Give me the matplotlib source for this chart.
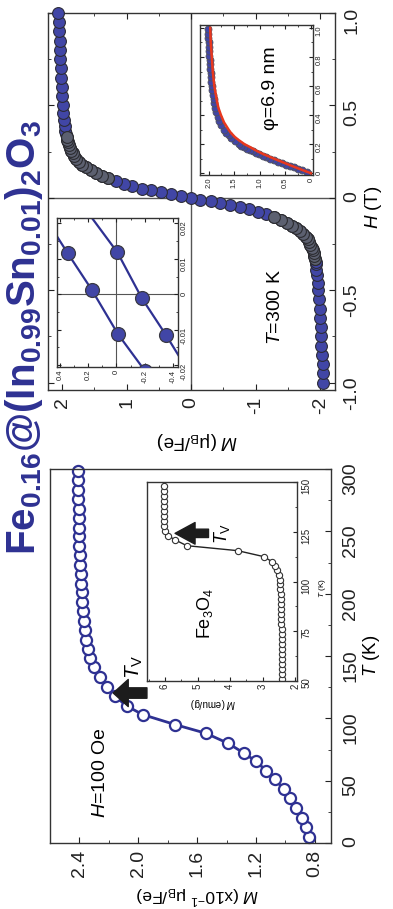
import matplotlib
matplotlib.use("Agg")
import matplotlib.pyplot as plt
from matplotlib.ticker import MultipleLocator
from matplotlib.patches import FancyArrowPatch

plt.rcParams.update({
    "font.family": ["Liberation Sans", "DejaVu Sans"],
    "mathtext.fontset": "custom",
    "mathtext.rm": "Liberation Sans",
    "mathtext.it": "Liberation Sans:italic",
    "mathtext.bf": "Liberation Sans:bold",
    "xtick.direction": "in", "ytick.direction": "in",
    "axes.linewidth": 1.0,
})

NAVY = "#2e3192"
BLUE = "#4146a6"

# M(T) of the nanocomposite, H = 100 Oe  (M in 1e-1 muB/Fe)
T_nc = [5, 12.5, 20, 28, 36, 43, 51, 58, 65.5, 72, 80, 88, 95, 103, 110, 118, 125, 133, 141,
        148, 156, 163, 171, 178, 186, 193, 201, 208, 216, 223, 231, 238, 246, 253, 261, 268,
        276, 283, 291, 298]
M_nc = [0.84, 0.86, 0.89, 0.93, 0.97, 1.01, 1.07, 1.13, 1.20, 1.28, 1.39, 1.54, 1.75, 1.97,
        2.08, 2.16, 2.21, 2.26, 2.30, 2.33, 2.345, 2.355, 2.36, 2.37, 2.375, 2.38, 2.385, 2.39,
        2.39, 2.395, 2.395, 2.40, 2.40, 2.40, 2.405, 2.405, 2.41, 2.41, 2.41, 2.41]

# bulk Fe3O4 reference (M in emu/g)
T_fe = [51, 53.5, 56, 58.5, 61, 63.5, 66, 68.5, 71, 73.5, 76, 78.5, 81, 83.5, 86, 88.5, 91,
        93.5, 96, 98.5, 101, 103.5, 106, 108, 110, 112.5, 115.5, 118, 121, 123, 125.5, 128,
        130.5, 133, 135.5, 138, 140.5, 143, 145.5, 148]
M_fe = [2.40, 2.40, 2.40, 2.41, 2.41, 2.41, 2.41, 2.42, 2.42, 2.42, 2.42, 2.43, 2.43, 2.43,
        2.44, 2.44, 2.45, 2.45, 2.46, 2.47, 2.48, 2.50, 2.55, 2.62, 2.72, 2.97, 3.77, 5.33,
        5.70, 5.90, 6.00, 6.02, 6.03, 6.03, 6.03, 6.03, 6.04, 6.04, 6.04, 6.04]

# M(H) loop at 300 K (muB/Fe)
H_loop = [-1.00, -0.95, -0.90, -0.85, -0.80, -0.75, -0.70, -0.65, -0.60, -0.55, -0.50, -0.46,
          -0.42, -0.39, -0.36, -0.345, -0.33, -0.315, -0.30, -0.285, -0.27, -0.255, -0.24,
          -0.225, -0.21, -0.195, -0.18, -0.165, -0.15, -0.135, -0.12, -0.105, -0.09, -0.075,
          -0.062, -0.05, -0.04, -0.03, -0.02, -0.01, 0.0, 0.01, 0.02, 0.03, 0.04, 0.05, 0.062,
          0.075, 0.09, 0.105, 0.12, 0.135, 0.15, 0.165, 0.18, 0.195, 0.21, 0.225, 0.24, 0.255,
          0.27, 0.285, 0.30, 0.315, 0.33, 0.345, 0.36, 0.39, 0.42, 0.46, 0.50, 0.55, 0.60,
          0.65, 0.70, 0.75, 0.80, 0.85, 0.90, 0.95, 1.00]
M_loop = [-2.05, -2.04, -2.04, -2.03, -2.02, -2.02, -2.01, -2.00, -1.99, -1.98, -1.97, -1.96,
          -1.95, -1.94, -1.94, -1.93, -1.92, -1.91, -1.90, -1.89, -1.87, -1.85, -1.83, -1.81,
          -1.78, -1.74, -1.69, -1.63, -1.56, -1.48, -1.39, -1.28, -1.16, -1.03, -0.90, -0.75,
          -0.60, -0.45, -0.30, -0.14, 0.01, 0.16, 0.32, 0.47, 0.62, 0.76, 0.91, 1.04, 1.17,
          1.29, 1.39, 1.48, 1.56, 1.63, 1.69, 1.74, 1.78, 1.81, 1.84, 1.86, 1.88, 1.89, 1.91,
          1.92, 1.93, 1.94, 1.95, 1.96, 1.97, 1.98, 1.99, 2.00, 2.01, 2.02, 2.02, 2.03, 2.04,
          2.04, 2.05, 2.05, 2.06]

# low-field zoom of the loop: two branches
H_br1 = [0.0232, 0.01155, 0.0013, -0.0113, -0.0215, -0.033]
M_br1 = [0.53, 0.344, 0.175, -0.012, -0.20, -0.37]
H_br2 = [0.0235, 0.0118, -0.00115, -0.01155, -0.0225]
M_br2 = [0.21, -0.007, -0.18, -0.351, -0.52]

# first quadrant with Langevin fit (phi = 6.9 nm)
H_q1 = [0.01, 0.02, 0.03, 0.04, 0.05, 0.06, 0.07, 0.08, 0.09, 0.10, 0.11, 0.12, 0.13, 0.14,
        0.15, 0.16, 0.17, 0.18, 0.19, 0.20, 0.22, 0.24, 0.26, 0.28, 0.30, 0.33, 0.36, 0.39,
        0.42, 0.45, 0.48, 0.51, 0.54, 0.57, 0.60, 0.63, 0.66, 0.69, 0.72, 0.75, 0.78, 0.81,
        0.84, 0.87, 0.90, 0.93, 0.96, 0.99]
M_q1 = [0.08, 0.17, 0.25, 0.33, 0.41, 0.49, 0.57, 0.65, 0.72, 0.80, 0.87, 0.94, 1.01, 1.08,
        1.14, 1.20, 1.26, 1.31, 1.36, 1.41, 1.49, 1.56, 1.61, 1.66, 1.70, 1.75, 1.79, 1.82,
        1.85, 1.87, 1.89, 1.90, 1.92, 1.93, 1.94, 1.95, 1.96, 1.96, 1.97, 1.98, 1.98, 1.99,
        1.99, 2.00, 2.00, 2.01, 2.01, 2.02]
H_fit = [0.0, 0.02, 0.05, 0.08, 0.10, 0.13, 0.15, 0.18, 0.20, 0.23, 0.25, 0.28, 0.30, 0.35,
         0.40, 0.45, 0.50, 0.60, 0.70, 0.80, 0.90, 1.00]
M_fit = [0.0, 0.15, 0.37, 0.58, 0.72, 0.92, 1.04, 1.19, 1.30, 1.42, 1.49, 1.57, 1.61, 1.70,
         1.76, 1.81, 1.84, 1.89, 1.92, 1.94, 1.96, 1.97]

W, HH = 393, 909
fig = plt.figure(figsize=(W / 100, HH / 100), dpi=100)


def rect(x0, y0, x1, y1):
    # pixel box of the picture -> figure fraction
    return [x0 / W, 1 - y1 / HH, (x1 - x0) / W, (y1 - y0) / HH]


def style(ax, xlim, ylim, xt, xl, yt, yl, size, pad_x, pad_y, mirror, xminor=None, yminor=None,
          major=4.5, minor=2.5):
    # x axis carries M (grows to the left), y axis carries T or H (grows upward)
    ax.set_xlim(*xlim)
    ax.set_ylim(*ylim)
    ax.set_xticks(xt, xl)
    ax.set_yticks(yt, yl)
    if xminor:
        ax.xaxis.set_minor_locator(MultipleLocator(xminor))
    if yminor:
        ax.yaxis.set_minor_locator(MultipleLocator(yminor))
    ax.tick_params(which="both", bottom=True, right=True, top=mirror, left=mirror,
                   labelbottom=True, labelright=True, labelleft=False, labeltop=False,
                   labelsize=size, colors="#222222")
    ax.tick_params(which="major", length=major)
    ax.tick_params(which="minor", length=minor)
    ax.tick_params(axis="x", labelrotation=90, pad=pad_x)
    ax.tick_params(axis="y", labelrotation=90, pad=pad_y)
    for s in ax.spines.values():
        s.set_color("#333333")


def arrow(ax, tail, tip, scale, hl, hw, tw):
    ax.add_patch(FancyArrowPatch(tail, tip, transform=ax.transAxes, mutation_scale=scale,
                                 arrowstyle=f"simple,head_length={hl},head_width={hw},tail_width={tw}",
                                 color="#1c1c1c", shrinkA=0, shrinkB=0, zorder=5))


# ---------------- left: M(T) ----------------
ax1 = fig.add_axes(rect(50, 469, 331, 843))
ax1.plot(M_nc, T_nc, "-o", color=NAVY, lw=2, ms=8, mfc="white", mec=NAVY, mew=1.6, clip_on=False)
style(ax1, (2.60, 0.69), (0, 300), [2.4, 2.0, 1.6, 1.2, 0.8], ["2.4", "2.0", "1.6", "1.2", "0.8"],
      [0, 50, 100, 150, 200, 250, 300], ["0", "50", "100", "150", "200", "250", "300"],
      14, 5, 8, False, xminor=0.2, yminor=25)
ax1.text(0.178, 0.187, "$H$=100 Oe", transform=ax1.transAxes, rotation=90, fontsize=14,
         ha="center", va="center")
arrow(ax1, (0.345, 0.401), (0.225, 0.401), 15, 0.72, 1.3, 0.5)
ax1.text(0.30, 0.47, r"$T_\mathrm{V}$", transform=ax1.transAxes, rotation=90, fontsize=15,
         ha="center", va="center")
fig.text(372 / W, 1 - 656 / HH, "$T$ (K)", rotation=90, fontsize=13.5, ha="center", va="center")
fig.text(198 / W, 1 - 895 / HH, r"$M$ (x10$^{-1}$ μ$_\mathrm{B}$/Fe)", rotation=180, fontsize=12.5,
         ha="center", va="center")

# inset: bulk Fe3O4
ax2 = fig.add_axes(rect(147, 482, 297, 681))
ax2.plot(M_fe, T_fe, "-o", color="#222222", lw=1, ms=4.5, mfc="white", mec="#333333", mew=0.8)
style(ax2, (6.55, 1.95), (50, 150), [6, 5, 4, 3, 2], ["6", "5", "4", "3", "2"],
      [50, 75, 100, 125, 150], ["50", "75", "100", "125", "150"], 7, 2, 3, False,
      xminor=0.5, yminor=12.5, major=3, minor=1.5)
ax2.text(0.387, 0.342, r"Fe$_3$O$_4$", transform=ax2.transAxes, rotation=90, fontsize=13,
         ha="center", va="center")
arrow(ax2, (0.41, 0.742), (0.187, 0.742), 12, 1.2, 1.3, 0.5)
ax2.text(0.50, 0.742, r"$T_\mathrm{V}$", transform=ax2.transAxes, rotation=90, fontsize=13,
         ha="center", va="center")
fig.text(322 / W, 1 - 588 / HH, "$T$ (K)", rotation=90, fontsize=6, ha="center", va="center")
fig.text(213 / W, 1 - 703 / HH, "$M$ (emu/g)", rotation=180, fontsize=7, ha="center", va="center")

# ---------------- right: M(H) ----------------
ax3 = fig.add_axes(rect(48, 13, 335, 390))
ax3.axhline(0, color="#555555", lw=1, zorder=1)
ax3.axvline(0, color="#555555", lw=1, zorder=1)
ax3.plot(M_loop, H_loop, "o", ms=8.5, mfc=BLUE, mec="#2c2c38", mew=0.8, zorder=3, clip_on=False)
bend = [i for i, h in enumerate(H_loop) if 0.1 < abs(h) < 0.34]
ax3.plot([M_loop[i] for i in bend], [H_loop[i] for i in bend], "o", ms=8.5, mfc="#5c6070",
         mec="#2c2c30", mew=0.8, zorder=4)
style(ax3, (2.22, -2.23), (-1.04, 1.0), [2, 1, 0, -1, -2], ["2", "1", "0", "-1", "-2"],
      [-1.0, -0.5, 0, 0.5, 1.0], ["-1.0", "-0.5", "0", "0.5", "1.0"], 14, 5, 6, True,
      xminor=0.5, yminor=0.25)
ax3.text(0.791, 0.220, "$T$=300 K", transform=ax3.transAxes, rotation=90, fontsize=14,
         ha="center", va="center")
fig.text(373 / W, 1 - 207 / HH, "$H$ (T)", rotation=90, fontsize=13.5, ha="center", va="center")
fig.text(197 / W, 1 - 440 / HH, r"$M$ (μ$_\mathrm{B}$/Fe)", rotation=180, fontsize=13.5,
         ha="center", va="center")

# inset: low-field detail
ax4 = fig.add_axes(rect(57, 218, 178, 367))
ax4.axhline(0, color="#555555", lw=0.8, zorder=1)
ax4.axvline(0, color="#555555", lw=0.8, zorder=1)
for hb, mb in [(H_br1, M_br1), (H_br2, M_br2)]:
    ax4.plot(mb, hb, "-", color=NAVY, lw=1.6, zorder=2)
    ax4.plot(mb, hb, "o", ms=10, mfc=BLUE, mec="#3a3a44", mew=0.9, zorder=3)
style(ax4, (0.42, -0.435), (-0.0205, 0.0215), [0.4, 0.2, 0, -0.2, -0.4],
      ["0.4", "0.2", "0", "-0.2", "-0.4"], [-0.02, -0.01, 0, 0.01, 0.02],
      ["-0.02", "-0.01", "0", "0.01", "0.02"], 5.5, 2, 2, True, xminor=0.1, yminor=0.005,
      major=3, minor=1.5)

# inset: first quadrant with fit
ax5 = fig.add_axes(rect(200, 25, 313, 175))
ax5.plot(M_q1, H_q1, "o", ms=5, mfc=BLUE, mec="#50505c", mew=0.6, zorder=2)
ax5.plot(M_fit, H_fit, "-", color="#e8381e", lw=1.8, zorder=3)
style(ax5, (2.17, -0.04), (-0.012, 1.02), [2.0, 1.5, 1.0, 0.5, 0],
      ["2.0", "1.5", "1.0", "0.5", "0"], [0, 0.2, 0.4, 0.6, 0.8, 1.0],
      ["0", "0.2", "0.4", "0.6", "0.8", "1.0"], 5.5, 2, 2, True, xminor=0.25, yminor=0.1,
      major=3, minor=1.5)
ax5.text(0.62, 0.58, "φ=6.9 nm", transform=ax5.transAxes, rotation=90, fontsize=14,
         ha="center", va="center")

# title
fig.text(24 / W, 1 - 338 / HH,
         r"Fe$_{\mathbf{0.16}}$@(In$_{\mathbf{0.99}}$Sn$_{\mathbf{0.01}}$)$_{\mathbf{2}}$O$_{\mathbf{3}}$",
         rotation=90, fontsize=29, fontweight="bold", color=NAVY, ha="center", va="center")

fig.savefig("out.png", dpi=100)
